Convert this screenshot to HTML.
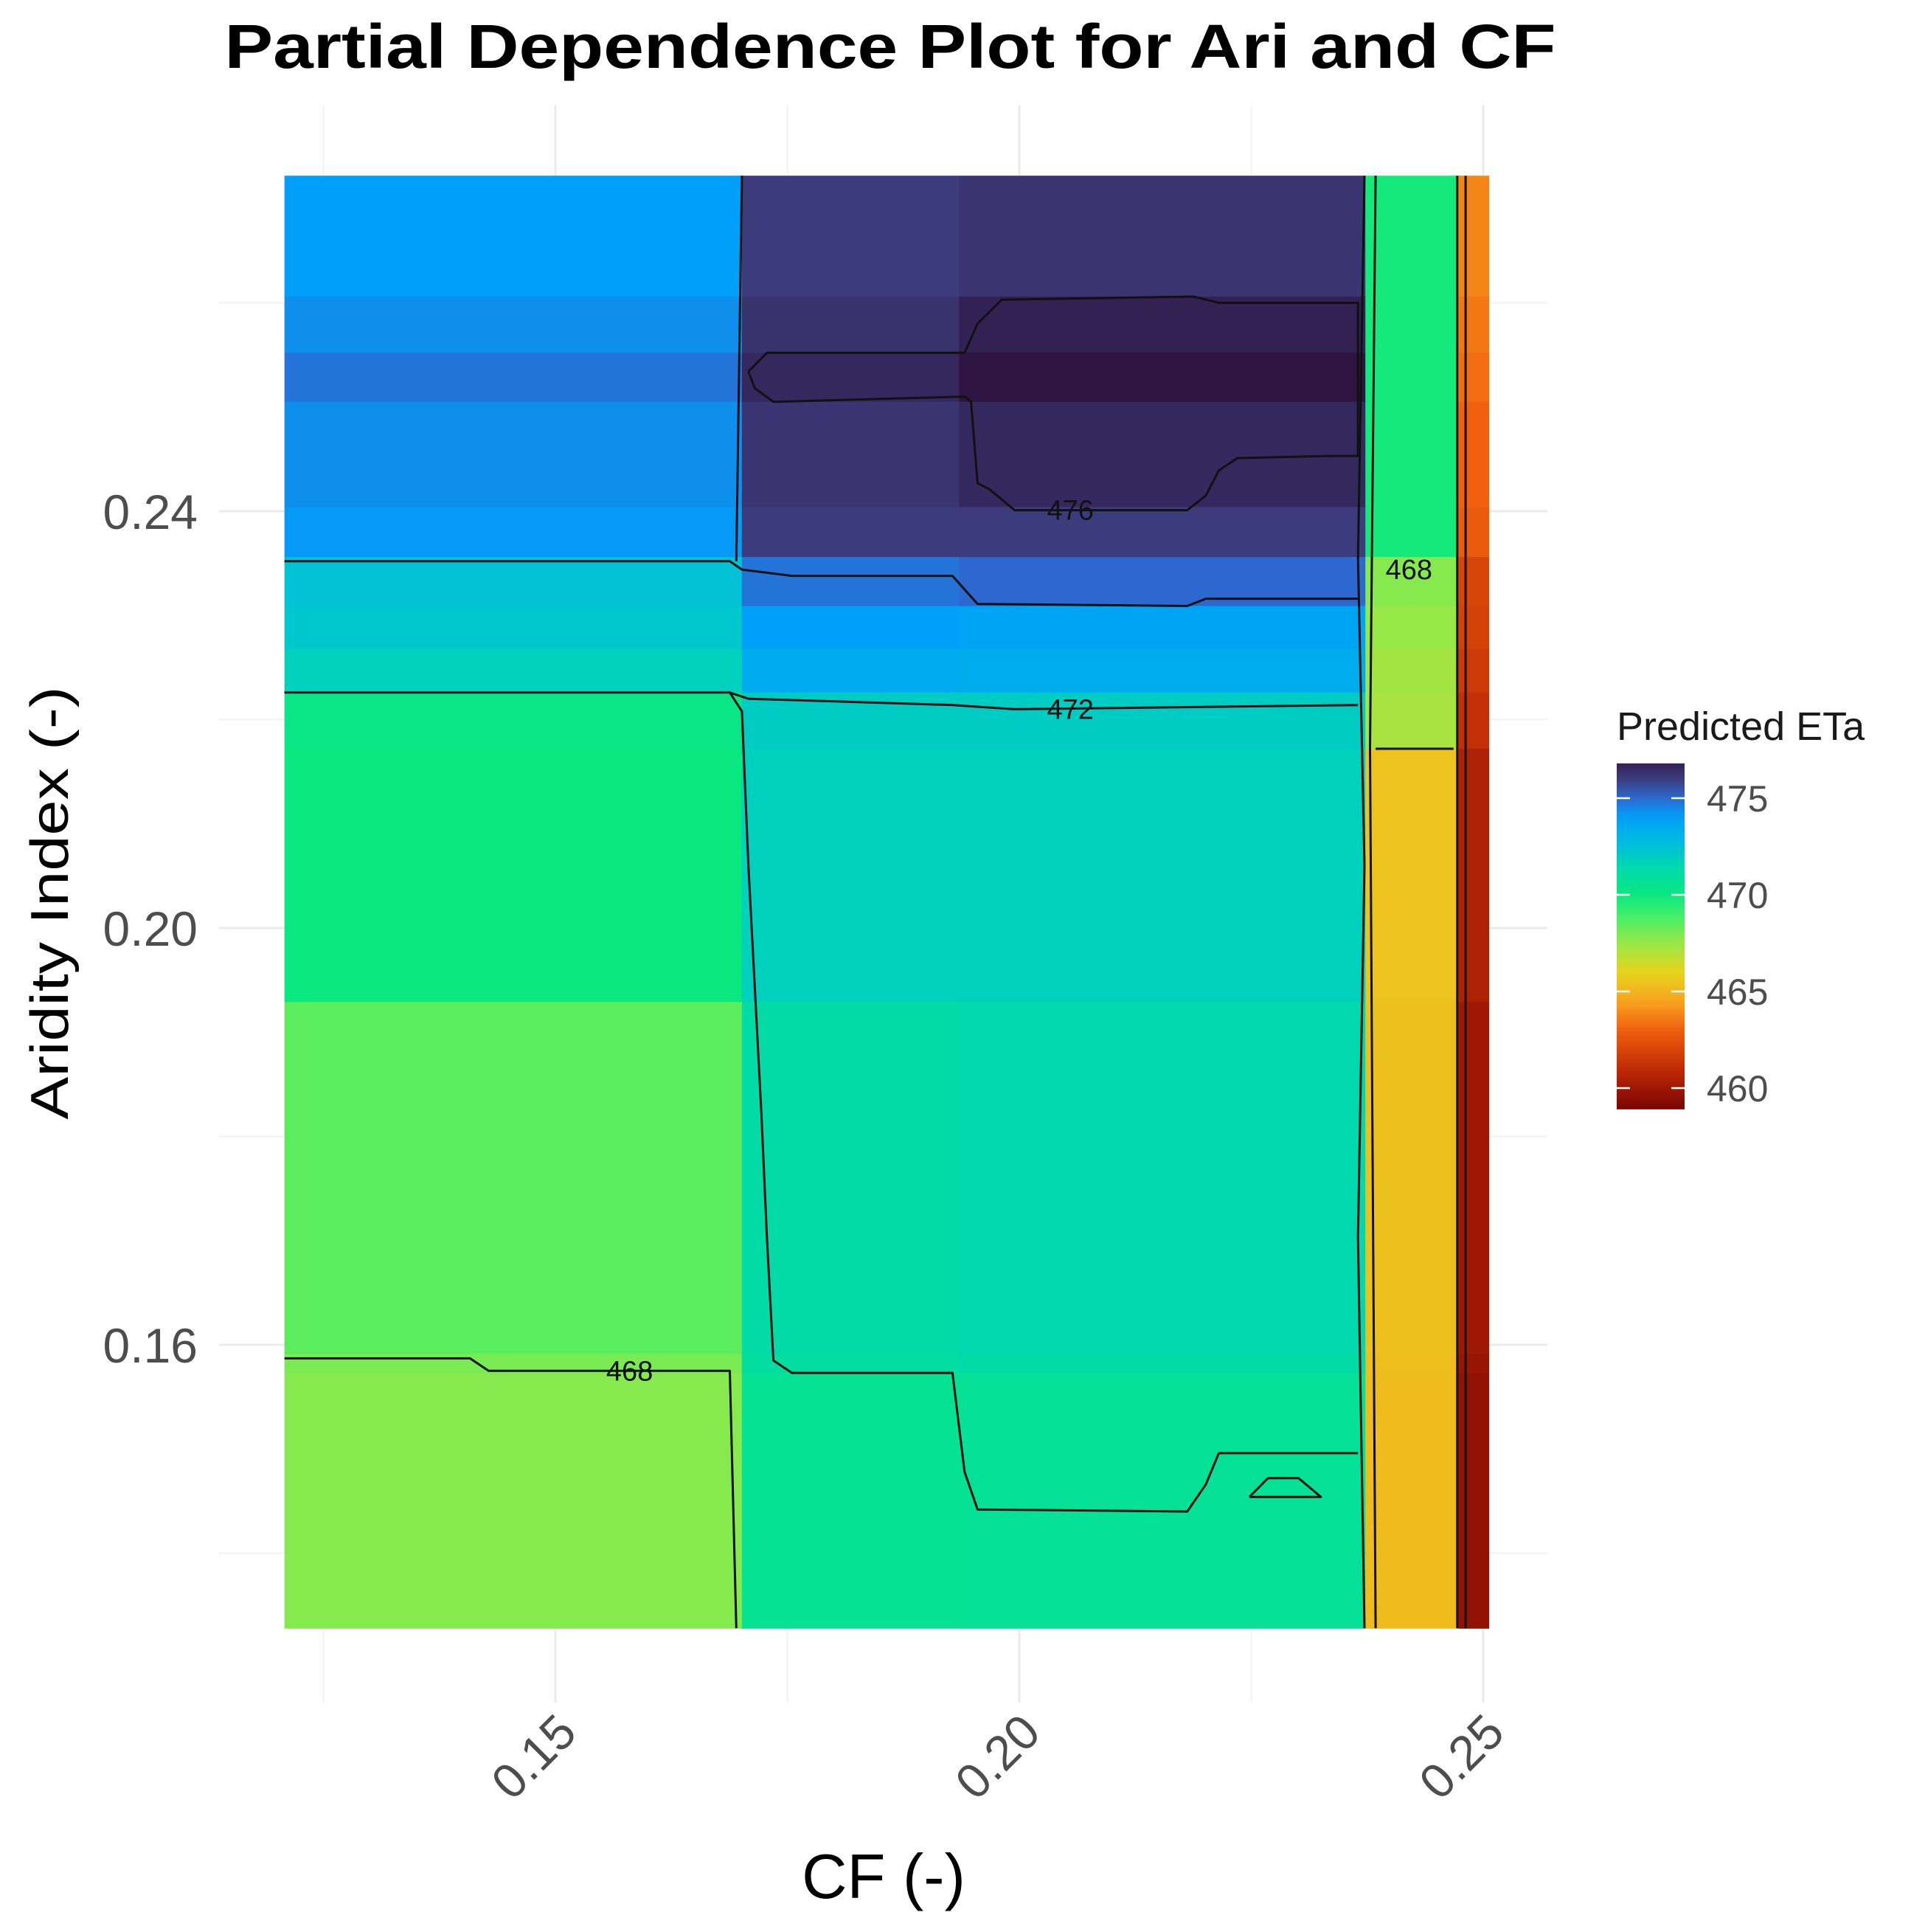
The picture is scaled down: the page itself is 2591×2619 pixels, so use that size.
<!DOCTYPE html>
<html><head><meta charset="utf-8"><style>
html,body{margin:0;padding:0;background:#fff;}
svg{display:block;font-family:"Liberation Sans",sans-serif;}
</style></head><body>
<svg id="chart" width="2591" height="2619" viewBox="0 0 2591 2619" xmlns="http://www.w3.org/2000/svg">
<rect x="0" y="0" width="2591" height="2619" fill="#ffffff"/>
<g id="grid"></g>
<g id="cells"></g>
<g id="contours"></g>
<g id="axes"></g>
<g id="legend"></g>
<text x="1207" y="92" text-anchor="middle" font-size="84" font-weight="bold" fill="#000" textLength="1805" lengthAdjust="spacingAndGlyphs">Partial Dependence Plot for Ari and CF</text>
<text x="1198" y="2573" text-anchor="middle" font-size="85" fill="#000">CF (-)</text>
<text transform="translate(92,1224) rotate(-90)" text-anchor="middle" font-size="72" fill="#000" textLength="587" lengthAdjust="spacingAndGlyphs">Aridity Index (-)</text>
</svg>
<script>
// ---- data ----
const xTicks = [0.15, 0.20, 0.25];
const xTickLabels = ["0.15", "0.20", "0.25"];
const xMinor = [0.125, 0.175, 0.225];
const yTicks = [0.24, 0.20, 0.16];
const yTickLabels = ["0.24", "0.20", "0.16"];
const yMinor = [0.26, 0.22, 0.18, 0.14];
const colEdges = [0.1208, 0.1701, 0.1935, 0.2373, 0.2473, 0.2506];
const rowEdges = [0.2722, 0.2606, 0.2552, 0.2505, 0.2404, 0.2356, 0.2309, 0.2268, 0.2226, 0.2172, 0.1929, 0.1591, 0.1573, 0.1328];
const etaValues = [
  [474.0, 476.0, 476.2, 469.8, 463.8],
  [474.3, 476.3, 476.8, 469.8, 463.5],
  [474.8, 476.6, 477.2, 469.8, 463.3],
  [474.3, 476.2, 476.6, 469.8, 463.0],
  [474.1, 476.0, 476.0, 469.8, 462.8],
  [472.4, 474.8, 475.0, 467.8, 462.0],
  [472.2, 474.0, 473.8, 467.5, 461.8],
  [471.8, 473.5, 473.4, 467.3, 461.6],
  [470.2, 472.0, 472.0, 467.2, 461.2],
  [470.0, 471.8, 471.8, 465.5, 460.5],
  [468.5, 471.2, 471.4, 465.4, 460.0],
  [468.0, 471.0, 471.2, 465.3, 459.8],
  [467.8, 470.6, 470.7, 465.2, 459.6]
];
const contour476 = [[0.1708,0.2534],[0.1728,0.2552],[0.1941,0.2552],[0.1955,0.2580],[0.1981,0.2603],[0.2188,0.2606],[0.2215,0.2600],[0.2365,0.2600],[0.2365,0.2453],[0.2335,0.2453],[0.2235,0.2451],[0.2215,0.2439],[0.2201,0.2415],[0.2181,0.2401],[0.1995,0.2401],[0.1968,0.2421],[0.1955,0.2427],[0.1948,0.2505],[0.1941,0.2510],[0.1735,0.2505],[0.1715,0.2518],[0.1708,0.2534]];
const contour474 = [[0.1208,0.2352],[0.1688,0.2352],[0.1701,0.2344],[0.1755,0.2338],[0.1928,0.2338],[0.1955,0.2311],[0.2181,0.2309],[0.2201,0.2316],[0.2365,0.2316]];
const contour474b = [[0.1701,0.2722],[0.1695,0.2352]];
const contour472 = [[0.1208,0.2226],[0.1688,0.2226],[0.1708,0.2220],[0.1928,0.2214],[0.1995,0.2210],[0.2365,0.2214]];
const contour470 = [[0.1688,0.2226],[0.1701,0.2208],[0.1708,0.2060],[0.1722,0.1822],[0.1728,0.1703],[0.1735,0.1585],[0.1755,0.1573],[0.1928,0.1573],[0.1941,0.1478],[0.1955,0.1442],[0.2181,0.1440],[0.2201,0.1466],[0.2215,0.1496],[0.2235,0.1496],[0.2365,0.1496]];
const contour470s = [[0.2248,0.1454],[0.2268,0.1472],[0.2301,0.1472],[0.2325,0.1454],[0.2248,0.1454]];
const contour468 = [[0.1208,0.1587],[0.1408,0.1587],[0.1428,0.1575],[0.1688,0.1575],[0.1695,0.1328]];
const contourV1 = [[0.2372,0.2722],[0.2365,0.2356],[0.2372,0.2060],[0.2365,0.1703],[0.2372,0.1328]];
const contourV2 = [[0.2384,0.2722],[0.2378,0.2172],[0.2384,0.1328]];
const contour466 = [[0.2384,0.2172],[0.2468,0.2172]];
const contourV3 = [[0.2472,0.2722],[0.2472,0.1328]];
const contourV4 = [[0.2481,0.2722],[0.2481,0.1328]];
const contourLabels = ["476", "472", "468", "468"];
const contourLabelPos = [[0.2055,0.2401],[0.2055,0.2210],[0.1580,0.1575],[0.2420,0.2344]];
const legendTicks = [475, 470, 465, 460];
const legendMin = 458.9, legendMax = 476.8;

// ---- scales ----
const X = v => 753 + (v - 0.15) * 12580;
const Y = v => 693 + (0.24 - v) * 14125;
const LY = v => 1082 + (475 - v) * 26.2;
const NS = "http://www.w3.org/2000/svg";
function mk(tag, attrs, parent) {
  const e = document.createElementNS(NS, tag);
  for (const k in attrs) e.setAttribute(k, attrs[k]);
  parent.appendChild(e);
  return e;
}
const stops = [[458.9,[122,4,3]],[461,[192,42,4]],[463,[240,96,14]],[464.5,[248,165,30]],[466,[230,212,28]],[467.5,[152,232,72]],[469,[62,240,106]],[470,[10,232,128]],[471.5,[0,216,176]],[472.5,[0,192,216]],[474,[0,160,250]],[475,[45,104,208]],[476,[60,60,124]],[477.2,[46,20,64]]];
function color(v) {
  if (v <= stops[0][0]) return "rgb(" + stops[0][1].join(",") + ")";
  for (let i = 1; i < stops.length; i++) {
    if (v <= stops[i][0]) {
      const t = (v - stops[i-1][0]) / (stops[i][0] - stops[i-1][0]);
      const a = stops[i-1][1], b = stops[i][1];
      return "rgb(" + a.map((c, j) => Math.round(c + (b[j] - c) * t)).join(",") + ")";
    }
  }
  return "rgb(" + stops[stops.length-1][1].join(",") + ")";
}

// ---- grid ----
const grid = document.getElementById("grid");
const gx0 = 297, gx1 = 2098, gy0 = 143, gy1 = 2308;
xTicks.forEach(v => {
  const l = mk("line", {x1: X(v), x2: X(v), y1: gy0, y2: gy1, stroke: "#ebebeb", "stroke-width": 3}, grid);
  
  
});
xMinor.forEach(v => {
  const l = mk("line", {x1: X(v), x2: X(v), y1: gy0, y2: gy1, stroke: "#f2f2f2", "stroke-width": 2}, grid);
  
  
});
yTicks.forEach(v => {
  const l = mk("line", {x1: gx0, x2: gx1, y1: Y(v), y2: Y(v), stroke: "#ebebeb", "stroke-width": 3}, grid);
  
  
});
yMinor.forEach(v => {
  const l = mk("line", {x1: gx0, x2: gx1, y1: Y(v), y2: Y(v), stroke: "#f2f2f2", "stroke-width": 2}, grid);
  
  
});

// ---- heatmap cells ----
const cells = document.getElementById("cells");
etaValues.forEach((row, r) => {
  row.forEach((val, c) => {
    const x0 = X(colEdges[c]), x1 = X(colEdges[c+1]);
    const y0 = Y(rowEdges[r]), y1 = Y(rowEdges[r+1]);
    const rc = mk("rect", {x: x0, y: y0, width: x1 - x0 + 0.6, height: y1 - y0 + 0.6, fill: color(val)}, cells);
    
    
  });
});

// ---- contours ----
const cg = document.getElementById("contours");
[contour476, contour474, contour474b, contour472, contour470, contour470s, contour468, contourV1, contourV2, contour466, contourV3, contourV4].forEach(pts => {
  const p = mk("polyline", {points: pts.map(q => X(q[0]).toFixed(1) + "," + Y(q[1]).toFixed(1)).join(" "), fill: "none", stroke: "#111", "stroke-width": 3, "stroke-linejoin": "round"}, cg);
  
  
});
contourLabels.forEach((t, i) => {
  const tx = mk("text", {x: X(contourLabelPos[i][0]), y: Y(contourLabelPos[i][1]) + 13, "text-anchor": "middle", "font-size": 38, fill: "#111"}, cg);
  tx.textContent = t;
  
  
});

// ---- axes ----
const ax = document.getElementById("axes");
xTicks.forEach((v, i) => {
  const t = mk("text", {transform: "translate(" + (X(v) + 32) + ",2352) rotate(-45)", "text-anchor": "end", "font-size": 66, fill: "#4d4d4d"}, ax);
  t.textContent = xTickLabels[i];
  
  
});
yTicks.forEach((v, i) => {
  const t = mk("text", {x: 268, y: Y(v) + 24, "text-anchor": "end", "font-size": 66, fill: "#4d4d4d"}, ax);
  t.textContent = yTickLabels[i];
  
  
});

// ---- legend ----
const lg = document.getElementById("legend");
const lt = mk("text", {x: 2192, y: 1003, "font-size": 54, fill: "#1a1a1a"}, lg);
lt.textContent = "Predicted ETa";


const defs = mk("defs", {}, lg);
const grad = mk("linearGradient", {id: "cbar", x1: 0, y1: 0, x2: 0, y2: 1}, defs);
for (let k = 0; k <= 40; k++) {
  const v = legendMax - (legendMax - legendMin) * k / 40;
  mk("stop", {offset: (k / 40), "stop-color": color(v)}, grad);
}
const bar = mk("rect", {x: 2192, y: LY(legendMax), width: 92, height: LY(legendMin) - LY(legendMax), fill: "url(#cbar)"}, lg);


legendTicks.forEach(v => {
  const a = mk("line", {x1: 2192, x2: 2210, y1: LY(v), y2: LY(v), stroke: "#fff", "stroke-width": 2.5}, lg);
  
  
  const b = mk("line", {x1: 2266, x2: 2284, y1: LY(v), y2: LY(v), stroke: "#fff", "stroke-width": 2.5}, lg);
  
  
  const t = mk("text", {x: 2314, y: LY(v) + 18, "font-size": 50, fill: "#4d4d4d"}, lg);
  t.textContent = String(v);
  
  
});
</script>
</body></html>
